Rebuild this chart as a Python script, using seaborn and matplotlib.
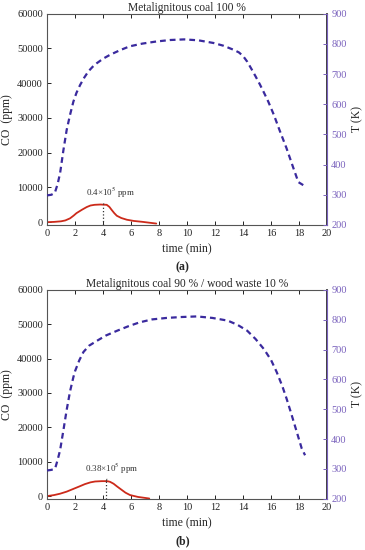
import matplotlib
matplotlib.use("Agg")
from matplotlib import pyplot as plt
import numpy as np
import pandas as pd
import seaborn as sns

# panel (a) - metalignitous coal 100 %
t_temp_a = [0, 0.3, 0.55, 0.75, 0.93, 1.17, 1.4, 1.64, 1.88, 2.1, 2.36, 2.65, 2.95,
            3.25, 3.55, 4.0, 4.5, 5.2, 5.9, 6.8, 7.8, 8.8, 9.8, 10.8, 11.9, 12.6,
            13.3, 13.7, 14.0, 14.3, 14.6, 14.9, 15.2, 15.5, 15.8, 16.2, 16.6, 17.1,
            17.6, 17.95, 18.3]
temp_a = [298, 300, 306, 335, 372, 449, 515, 565, 609, 638, 664, 688, 709,
          724, 736, 751, 764, 779, 792, 801, 808, 813, 815, 812, 803, 794,
          781, 772, 760, 741, 717, 692, 666, 638, 609, 565, 515, 455,
          388, 342, 332]
t_co_a = [0, 0.5, 1.0, 1.3, 1.64, 1.9, 2.1, 2.5, 2.83, 3.1, 3.4, 3.8, 4.26, 4.45,
          4.6, 4.8, 4.98, 5.3, 5.7, 6.2, 6.8, 7.3, 7.8]
co_a = [0, 80, 250, 500, 1100, 1900, 2600, 3600, 4350, 4800, 5000, 5080, 5000, 4400,
        3600, 2600, 1850, 1200, 700, 350, 100, -150, -400]

# panel (b) - metalignitous coal 90 % / wood waste 10 %
t_temp_b = [0, 0.3, 0.57, 0.75, 0.93, 1.17, 1.4, 1.64, 1.88, 2.0, 2.3, 2.6, 3.0,
            3.55, 4.2, 5.0, 5.8, 6.6, 7.5, 8.55, 9.6, 10.7, 11.8, 12.9, 13.6, 14.3,
            14.9, 15.5, 16.0, 16.4, 16.8, 17.1, 17.4, 17.8, 18.19, 18.43]
temp_b = [295, 297, 301, 330, 363, 431, 498, 560, 608, 628, 664, 692, 713,
          729, 747, 763, 778, 791, 801, 806, 809, 811, 806, 797, 783, 763,
          735, 701, 665, 625, 578, 537, 492, 430, 369, 346]
t_co_b = [0, 0.5, 0.93, 1.4, 1.88, 2.3, 2.71, 3.1, 3.43, 3.9, 4.3, 4.5, 4.75, 5.0,
          5.3, 5.6, 5.93, 6.5, 7.3]
co_b = [0, 300, 700, 1300, 2100, 2800, 3500, 4000, 4250, 4350, 4350, 4150, 3600, 2800,
        1900, 1000, 300, -250, -700]

titles = ["Metalignitous coal 100 %", "Metalignitous coal 90 % / wood waste 10 %"]
captions = ["(a)", "(b)"]
peak_times = [4.0, 4.2]
peak_co = [5050, 4350]
peak_labels = [r"0.4×10$^5$ ppm", r"0.38×10$^5$ ppm"]
label_pos = [(4.5, 6300), (4.6, 5900)]

sns.set_theme(style="ticks")
plt.rcParams["font.family"] = ["Liberation Serif", "DejaVu Serif"]
plt.rcParams["mathtext.fontset"] = "stix"

red = "#cc2a1a"
blue = "#3a2a9e"
purple = "#7a62bd"

fig = plt.figure(figsize=(3.65, 5.5), dpi=100)
boxes = [[0.129, 0.591, 0.767, 0.384], [0.129, 0.093, 0.767, 0.380]]
caption_y = [0.508, 0.011]

panels = [(t_temp_a, temp_a, t_co_a, co_a), (t_temp_b, temp_b, t_co_b, co_b)]

for i, (tt, tv, tc, cv) in enumerate(panels):
    ax = fig.add_axes(boxes[i])
    ax2 = ax.twinx()

    df_co = pd.DataFrame({"time": tc, "co": cv})
    df_t = pd.DataFrame({"time": tt, "temp": tv})

    sns.lineplot(data=df_co, x="time", y="co", ax=ax, color=red, lw=1.3)
    sns.lineplot(data=df_t, x="time", y="temp", ax=ax2, color=blue, lw=1.6,
                 linestyle=(0, (2.6, 1.8)))

    # dotted marker at the CO peak
    ax.vlines(peak_times[i], -800, peak_co[i], colors="#333333", linestyles=":", lw=0.9)
    ax.annotate(peak_labels[i], xy=(peak_times[i] + 0.02, peak_co[i] + 50),
                xytext=label_pos[i], ha="center", va="bottom", fontsize=6.5,
                color="#333333",
                arrowprops=dict(arrowstyle="-", color="#333333", lw=0.6,
                                shrinkA=0, shrinkB=0))

    ax.set_xlim(0, 20)
    ax.set_ylim(-800, 60000)
    ax2.set_ylim(200, 900)
    ax.set_xticks(np.arange(0, 21, 2))
    ax.set_yticks(np.arange(0, 60001, 10000))
    ax2.set_yticks(np.arange(200, 901, 100))

    ax.tick_params(axis="both", direction="in", length=3, width=0.7, labelsize=7.5,
                   colors="#222222", top=True, pad=3)
    ax2.tick_params(axis="y", direction="in", length=3, width=0.7, labelsize=7.5,
                    colors=purple, pad=3)
    for s in ["left", "bottom", "top"]:
        ax.spines[s].set_color("#555555")
        ax.spines[s].set_linewidth(0.8)
    ax2.spines["right"].set_color(purple)
    ax2.spines["right"].set_linewidth(0.8)
    ax2.spines["left"].set_visible(False)
    ax2.spines["top"].set_visible(False)
    ax2.spines["bottom"].set_visible(False)

    ax.set_xlabel("time (min)", fontsize=8.5, labelpad=4)
    ax.set_ylabel("CO  (ppm)", fontsize=8.5, labelpad=3)
    ax2.set_ylabel("T (K)", fontsize=8.5, labelpad=3)
    ax.set_title(titles[i], fontsize=8.3, pad=2)

    fig.text(0.5, caption_y[i], captions[i], ha="center", fontsize=8.5,
             fontweight="bold")

fig.savefig("out.png", dpi=100)
